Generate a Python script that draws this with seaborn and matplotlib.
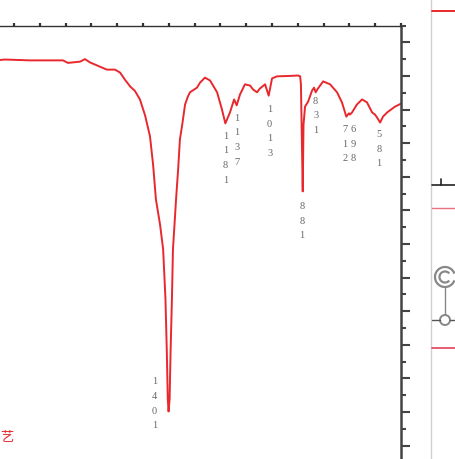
"""
IR spectrum, cropped screenshot view
"""
import pandas as pd
import matplotlib.pyplot as plt
import seaborn as sns
from matplotlib.patches import Circle, Arc
from matplotlib.ticker import MultipleLocator

# wavenumber (cm-1) and transmittance
wavenumber = [2070, 2035, 1938, 1810, 1791, 1744, 1725, 1705, 1667, 1640, 1609, 1589,
              1570, 1550, 1531, 1512, 1492, 1473, 1461, 1450, 1434, 1422, 1413, 1408,
              1404, 1401, 1397, 1393, 1388, 1384, 1378, 1372, 1364, 1357, 1349, 1337,
              1326, 1318, 1291, 1279, 1260, 1240, 1213, 1194, 1181, 1163, 1147, 1137,
              1124, 1105, 1085, 1074, 1058, 1047, 1027, 1013, 1000, 981, 930, 899,
              891, 888, 881, 878, 872, 860, 845, 837, 831, 822, 802, 775,
              748, 729, 717, 712, 702, 698, 690, 671, 651, 632, 612, 601,
              593, 581, 570, 554, 523, 500]
transmittance = [91.7, 91.9, 91.7, 91.7, 91.1, 91.4, 92.0, 91.2, 90.2, 89.5, 89.5, 88.8,
                 87.1, 85.5, 84.4, 82.4, 78.6, 73.6, 66.9, 58.6, 52.6, 46.7, 34.8, 22.9,
                 11.0, 8.1, 11.0, 22.9, 34.8, 46.7, 52.6, 58.6, 65.7, 72.9, 76.0, 81.2,
                 83.1, 84.1, 85.2, 86.4, 87.6, 86.9, 84.1, 80.0, 76.7, 79.3, 82.4, 81.0,
                 83.6, 86.0, 85.7, 84.8, 84.1, 85.0, 86.0, 83.3, 87.4, 87.9, 88.0, 88.1,
                 87.9, 86.0, 60.5, 76.4, 80.7, 81.9, 84.5, 85.2, 84.1, 85.0, 86.7, 86.0,
                 84.1, 81.7, 79.3, 78.3, 79.1, 78.8, 79.3, 81.2, 82.4, 81.7, 79.3, 78.8,
                 78.1, 76.9, 78.3, 79.3, 80.7, 81.4]

# picked peaks
peaks = [1401, 1181, 1137, 1013, 881, 831, 712, 698, 581]
# label offsets in pixels (dx, dy)
label_dx = [-14, 0, 0, 1, -1, 0, -1.5, 3.5, -1]
label_dy = [34, -8.5, -8.5, -9.5, -10.5, -4.5, -8.5, -10.5, -7.5]

df = pd.DataFrame({"wn": wavenumber, "T": transmittance})

sns.set_style("white")
plt.rcParams["font.family"] = ["Liberation Serif", "DejaVu Serif"]

W, H = 455, 459
fig = plt.figure(figsize=(W / 100, H / 100), dpi=100)

# main spectrum axes, partly outside the crop
ax = fig.add_axes([-0.0259, -0.0621, 0.9073, 1.0065])
sns.lineplot(data=df, x="wn", y="T", sort=False, color="#e8282c", lw=1.4, ax=ax)
ax.set_xlim(2100, 500)
ax.set_ylim(-10, 100)
ax.set_xlabel("")
ax.set_ylabel("")

for side in ["left", "bottom"]:
    ax.spines[side].set_visible(False)
ax.spines["top"].set_color("#333333")
ax.spines["top"].set_linewidth(1.0)
ax.spines["right"].set_color("#444444")
ax.spines["right"].set_linewidth(1.8)

ax.xaxis.tick_top()
ax.xaxis.set_major_locator(MultipleLocator(100))
ax.tick_params(axis="x", direction="out", length=2.5, width=1.6, color="#333333",
               labeltop=False, labelbottom=False)
ax.yaxis.tick_right()
ax.yaxis.set_major_locator(MultipleLocator(8))
ax.yaxis.set_minor_locator(MultipleLocator(4))
ax.tick_params(axis="y", which="major", direction="out", length=6.5, width=1.5,
               color="#444444", labelright=False, labelleft=False)
ax.tick_params(axis="y", which="minor", direction="out", length=3.5, width=1.5,
               color="#444444")

lookup = dict(zip(wavenumber, transmittance))
for wn, dx, dy in zip(peaks, label_dx, label_dy):
    ax.annotate("\n".join(str(wn)), xy=(wn, lookup[wn]), xytext=(dx, dy),
                textcoords="offset pixels", ha="center", va="top",
                fontsize=7.5, color="#666666", linespacing=1.8)

# overlay in pixel coords for the screen chrome around the plot
ov = fig.add_axes([0, 0, 1, 1], zorder=5)
ov.set_xlim(0, W)
ov.set_ylim(H, 0)
ov.axis("off")
ov.patch.set_alpha(0)

ov.plot([431, 431], [0, H], color="#d0d0d0", lw=1)
ov.plot([432, W], [11, 11], color="#e8282c", lw=1.4)
ov.plot([432, W], [185, 185], color="#222222", lw=1.2)
ov.plot([441, 441], [179, 185], color="#222222", lw=1.2)
ov.plot([432, W], [208, 208], color="#e87080", lw=1.0)
ov.add_patch(Arc((445, 277), 20, 20, theta1=20, theta2=340, ec="#888888", lw=1.6))
ov.add_patch(Arc((445, 277), 11, 11, theta1=40, theta2=320, ec="#888888", lw=1.6))
ov.plot([445, 445], [287, 315], color="#888888", lw=1)
ov.add_patch(Circle((445, 320), 5, fill=False, ec="#888888", lw=1.4))
ov.plot([432, 440], [320, 320], color="#555555", lw=1)
ov.plot([450, W], [320, 320], color="#555555", lw=1)
ov.plot([432, W], [348, 348], color="#e0405a", lw=1.2)

ov.text(0.5, 437, "艺", fontsize=9.5, color="#e8282c", ha="left", va="center",
        family=["Noto Sans CJK SC", "DejaVu Sans"])

fig.savefig("out.png", dpi=100)
plt.close(fig)
